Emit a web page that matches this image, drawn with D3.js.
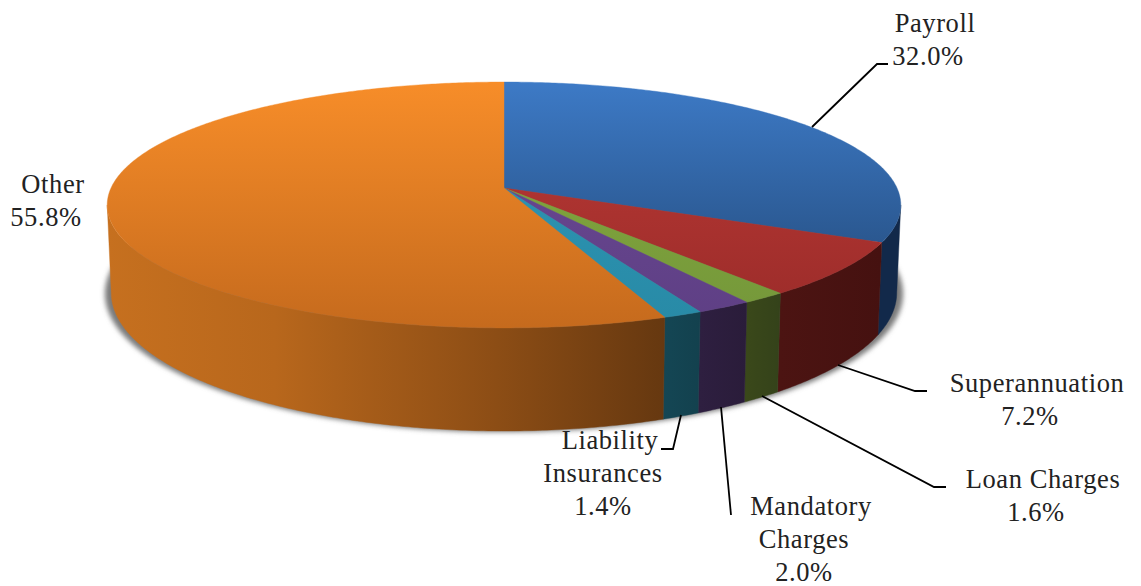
<!DOCTYPE html>
<html><head><meta charset="utf-8">
<script src="https://cdn.jsdelivr.net/npm/d3@7"></script>
<style>html,body{margin:0;background:#fff}svg{display:block}text{font-family:"Liberation Serif",serif;fill:#222}</style>
</head><body><svg id="c" width="1141" height="586"></svg>
<script>
const categories=["Payroll","Superannuation","Loan Charges","Mandatory Charges","Liability Insurances","Other"];
const shares=[32.0,7.2,1.6,2.0,1.4,55.8];
const topLight=["#3D7AC6","#BC3A36","#86AB3E","#6C4A96","#2E98B8","#F78D29"];
const topDark=["#2A578F","#9A2B29","#74973A","#5E3F84","#288AA6","#C56A1D"];
const sideLeft=["#12294A","#4C1412","#3A481A","#2E1F40","#144654","#C6701F"];
const sideRight=["#12294A","#451110","#34421A","#2A1C3A","#13414E","#663810"];
const labelLines=[["Payroll","32.0%"],["Superannuation","7.2%"],["Loan Charges","1.6%"],["Mandatory","Charges","2.0%"],["Liability","Insurances","1.4%"],["Other","55.8%"]];
const labelAnchors=[[928,32],[1030,392],[1036,488],[804,515],[603,449],[46,193]];
const leaderLines=[[[812,127],[877,64],[888,64]],[[838,365],[915,391],[927,391]],[[762,396],[934,487],[946,487]],[[721,407],[731,515]],[[681,415],[673,449],[661,449]],[]];

const svg=d3.select("#c");
const defs=svg.append("defs");
const topFace={cx:504,cy:188,a:393,b:120.6,k:0.138};
const baseFace={cx:504,cy:273.6,a:389,b:135.7,k:0.138};
const project=(f,t,g=1)=>{const u=Math.sin(t),v=Math.cos(t),w=1+f.k*v;return [f.cx+f.a*g*u/w,f.cy-f.b*v/w];};
const arcPts=(f,t0,t1)=>{const n=Math.max(2,Math.ceil((t1-t0)/0.01));return d3.range(n+1).map(i=>project(f,t0+(t1-t0)*i/n));};
const line=d3.line();
const arcs=d3.pie().sort(null).value(d=>d)(shares);
// the wall is visible only between the two silhouette generators
const tRight=Math.acos(-topFace.k), tLeft=2*Math.PI-tRight;

defs.append("filter").attr("id","blur").attr("x","-10%").attr("y","-10%").attr("width","120%").attr("height","120%")
  .append("feGaussianBlur").attr("stdDeviation",2.6);
arcs.forEach((d,i)=>{
  const t=defs.append("linearGradient").attr("id","t"+i).attr("gradientUnits","userSpaceOnUse").attr("x1",0).attr("x2",0).attr("y1",82).attr("y2",i==0?245:330);
  t.append("stop").attr("offset",0).attr("stop-color",topLight[i]);
  t.append("stop").attr("offset",1).attr("stop-color",topDark[i]);
  const pts=arcPts(topFace,Math.max(d.startAngle,tRight),Math.min(d.endAngle,tLeft));
  const e=d3.extent(pts,p=>p[0]);
  const s=defs.append("linearGradient").attr("id","s"+i).attr("gradientUnits","userSpaceOnUse").attr("x1",e[0]).attr("x2",e[1]).attr("y1",0).attr("y2",0);
  s.append("stop").attr("offset",0).attr("stop-color",sideLeft[i]);
  if(i==5){s.append("stop").attr("offset",0.3).attr("stop-color","#B8671C");s.append("stop").attr("offset",0.7).attr("stop-color","#8C4D15");}
  s.append("stop").attr("offset",1).attr("stop-color",sideRight[i]);
});
// soft shadow under the pie
const sh=d3.range(0,2*Math.PI+0.02,0.02).map(t=>project(baseFace,t,1.016));
svg.append("path").attr("d",line(sh)+"Z").attr("fill","#7a7a7a").attr("filter","url(#blur)").attr("transform","translate(0,1)");
// walls
const wall=d=>{const a=Math.max(d.startAngle,tRight),b=Math.min(d.endAngle,tLeft);
  return line([...arcPts(topFace,a,b),...arcPts(baseFace,a,b).reverse()])+"Z";};
svg.append("g").selectAll("path").data(arcs).join("path")
  .attr("d",wall)
  .attr("fill",(d,i)=>`url(#s${i})`).attr("stroke",(d,i)=>`url(#s${i})`).attr("stroke-width",0.4);
// top faces
svg.append("g").selectAll("path").data(arcs).join("path")
  .attr("d",d=>line([[topFace.cx,topFace.cy],...arcPts(topFace,d.startAngle,d.endAngle)])+"Z")
  .attr("fill",(d,i)=>`url(#t${i})`).attr("stroke",(d,i)=>`url(#t${i})`).attr("stroke-width",0.4);
// leaders
svg.append("g").selectAll("path").data(leaderLines.filter(l=>l.length)).join("path")
  .attr("d",line).attr("fill","none").attr("stroke","#000").attr("stroke-width",1.8);
// labels
const lh=33, firstLineShift=7;
labelLines.forEach((ls,i)=>{
  const t=svg.append("text").attr("text-anchor","middle").attr("font-size",26.5).attr("letter-spacing",0.6);
  ls.forEach((s,j)=>t.append("tspan").attr("x",labelAnchors[i][0]+(j==0?firstLineShift:0)).attr("y",labelAnchors[i][1]+j*lh).text(s));
});
</script></body></html>
